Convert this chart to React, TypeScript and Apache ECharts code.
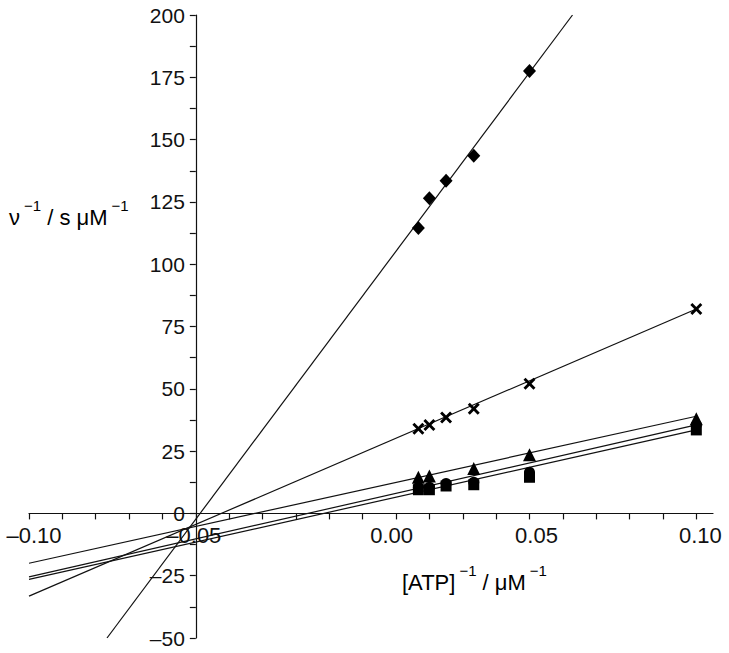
import React, { useEffect, useRef } from 'react';
import * as echarts from 'echarts';

// Reciprocal ATP concentration (µM^-1)
const atpInv = [0.0167, 0.02, 0.025, 0.0333, 0.05, 0.1];
// Reciprocal rates for each series
const diamondY: (number | null)[] = [114.5, 126.5, 133.5, 143.5, 177.5, null];
const crossY: (number | null)[] = [34, 35.5, 38.5, 42, 52, 82];
const triangleY: (number | null)[] = [14.5, 15, null, 18, 23.5, 38];
const circleY: (number | null)[] = [10.5, 10.5, 12, 12.5, 16.5, 35.5];
const squareY: (number | null)[] = [9.5, 9.5, 11, 11.5, 14.5, 33.5];

// Fitted regression lines (slope, intercept) for diamond, cross, triangle, circle, square
const fitSlopes = [1792, 576, 295, 305, 300];
const fitIntercepts = [87.3, 24.4, 9.5, 5, 3.5];

// Axis ranges, ticks and labels
const X_MIN = -0.1;
const X_MAX = 0.105;
const Y_MIN = -50;
const Y_MAX = 200;
const Y_AXIS_AT_X = -0.05; // the y axis crosses the x axis here
const X_AXIS_AT_Y = 0; // the x axis crosses the y axis here
const xTickValues = [-0.1, -0.09, -0.08, -0.07, -0.06, -0.05, -0.04, -0.03, -0.02, -0.01, 0, 0.01, 0.02, 0.03, 0.04, 0.05, 0.06, 0.07, 0.08, 0.09, 0.1];
const xLabelValues = [-0.1, -0.05, 0, 0.05, 0.1];
const yLabelStep = 25;

const W = 729;
const H = 653;
const GRID = { left: 29, right: 16, top: 15, bottom: 15 };

const FONT = '"Liberation Sans", Arial, Helvetica, sans-serif';
const INK = '#111111';
const xLabelPad = [
  [0, 0, 0, 10],
  [0, 4, 0, 0],
  [0, 0, 0, 58],
  [0, 0, 0, 14],
  [0, 0, 0, 8],
];

const XMARK = 'path://M0,1.7 L1.7,0 L5,3.3 L8.3,0 L10,1.7 L6.7,5 L10,8.3 L8.3,10 L5,6.7 L1.7,10 L0,8.3 L3.3,5 Z';

function fitLine(m: number, b: number): number[][] {
  let x0 = -0.1;
  let x1 = 0.1;
  if (m * x0 + b < Y_MIN) x0 = (Y_MIN - b) / m;
  if (m * x1 + b > Y_MAX) x1 = (Y_MAX - b) / m;
  return [
    [x0, m * x0 + b],
    [x1, m * x1 + b],
  ];
}

function pts(ys: (number | null)[]) {
  return atpInv.map((x, i) => [x, ys[i]]).filter((p) => p[1] !== null);
}

const dash = (v: number, d: number) => (v < 0 ? '–' : '') + Math.abs(v).toFixed(d);

export default function App() {
  const ref = useRef<HTMLDivElement>(null);
  useEffect(() => {
    if (!ref.current) return;
    const chart = echarts.init(ref.current, undefined, { renderer: 'svg' });
    const gridW = W - GRID.left - GRID.right;
    const gridH = H - GRID.top - GRID.bottom;
    const yAxisOffset = -gridW * (Y_AXIS_AT_X - X_MIN) / (X_MAX - X_MIN);
    const xAxisOffset = -gridH * (X_AXIS_AT_Y - Y_MIN) / (Y_MAX - Y_MIN);
    const rich: Record<string, any> = {};
    xLabelPad.forEach((p, i) => {
      rich['l' + i] = { fontSize: 22, fontFamily: FONT, color: INK, padding: p };
    });
    const lineSeries = fitSlopes.map((m, i) => ({
      type: 'line',
      data: fitLine(m, fitIntercepts[i]),
      symbol: 'none',
      silent: true,
      lineStyle: { color: INK, width: 1.2 },
      z: 1,
    }));
    const scatter = (ys: (number | null)[], symbol: string, size: number | number[]) => ({
      type: 'scatter',
      data: pts(ys),
      symbol,
      symbolSize: size,
      itemStyle: { color: '#000', opacity: 1 },
      z: 3,
    });
    const supStyle = { fontSize: 15, fontFamily: FONT, color: INK, verticalAlign: 'top', padding: [0, 0, 0, 4] };
    const mainStyle = { fontSize: 22, fontFamily: FONT, color: INK, verticalAlign: 'bottom', padding: [8, 0, 0, 0] };
    chart.setOption({
      animation: false,
      backgroundColor: '#ffffff',
      grid: { ...GRID, containLabel: false, outerBoundsMode: 'none' },
      xAxis: {
        type: 'value',
        min: X_MIN,
        max: X_MAX,
        position: 'bottom',
        offset: xAxisOffset,
        splitLine: { show: false },
        axisLine: { onZero: false, lineStyle: { color: INK, width: 1.2 } },
        axisTick: { show: true, length: 6, customValues: xTickValues, lineStyle: { color: INK, width: 1.2 } },
        axisLabel: {
          customValues: xLabelValues,
          margin: 11,
          fontSize: 22,
          fontFamily: FONT,
          color: INK,
          rich,
          formatter: (v: number) => {
            const idx = xLabelValues.findIndex((u) => Math.abs(u - v) < 1e-9);
            return `{l${idx < 0 ? 0 : idx}|${dash(v, 2)}}`;
          },
        },
      },
      yAxis: {
        type: 'value',
        min: Y_MIN,
        max: Y_MAX,
        interval: 12.5,
        position: 'left',
        offset: yAxisOffset,
        splitLine: { show: false },
        axisLine: { onZero: false, lineStyle: { color: INK, width: 1.2 } },
        axisTick: { show: true, length: 6, lineStyle: { color: INK, width: 1.2 } },
        axisLabel: {
          margin: 11,
          fontSize: 21,
          fontFamily: FONT,
          color: INK,
          formatter: (v: number) => (Math.abs(v % yLabelStep) < 1e-9 ? dash(v, 0) : ''),
        },
      },
      graphic: [
        {
          type: 'text',
          left: 9,
          top: 198,
          style: {
            text: '{m|ν}{s|−1}{m| / s μM}{s|−1}',
            rich: { m: mainStyle, s: supStyle },
          },
        },
        {
          type: 'text',
          left: 402,
          top: 563,
          style: {
            text: '{m|[ATP]}{s|−1}{m| / μM}{s|−1}',
            rich: { m: mainStyle, s: supStyle },
          },
        },
      ],
      series: [
        ...lineSeries,
        scatter(diamondY, 'diamond', [13, 14]),
        scatter(crossY, XMARK, 12),
        scatter(triangleY, 'triangle', [13, 13]),
        scatter(circleY, 'circle', 11),
        scatter(squareY, 'rect', 11),
      ],
    });
    return () => chart.dispose();
  }, []);
  return <div ref={ref} style={{ position: 'fixed', left: 0, top: 0, width: W, height: H }} />;
}
